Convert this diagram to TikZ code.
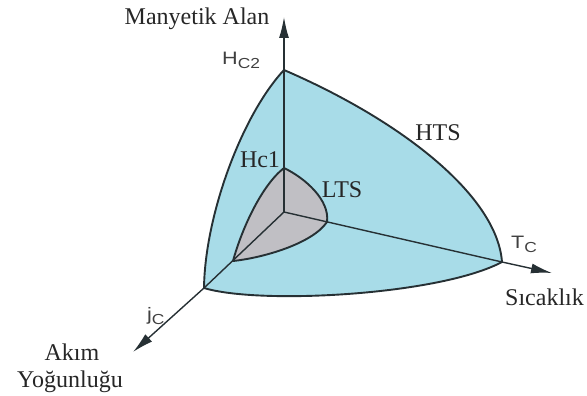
\documentclass[tikz,border=0pt]{standalone}
\usepackage{fontspec}
\setmainfont{Liberation Serif}
\newfontfamily\serf{Liberation Serif}
\newfontfamily\sansf{Liberation Sans}
\usetikzlibrary{arrows.meta}
\definecolor{htsblue}{RGB}{168,220,232}
\definecolor{ltsgray}{RGB}{192,191,196}
\definecolor{edge}{RGB}{38,48,52}
\tikzset{
  outline/.style={draw=edge, line width=1.9pt, line join=round},
  axisline/.style={draw=edge, line width=1.4pt},
  axisarrow/.style={axisline, -{Latex[length=21pt,width=10pt]}},
  lbl/.style={inner sep=0pt, font=\serf\fontsize{24}{26}\selectfont, text=black!85},
  slbl/.style={inner sep=0pt, text=black!75},
}
\newcommand{\subC}[2]{\scalebox{1.2}[1]{\sansf\fontsize{18}{18}\selectfont #1\raisebox{-4pt}{\fontsize{14.5}{14.5}\selectfont #2}}}
\begin{document}
\begin{tikzpicture}[x=1pt,y=-1pt]
\useasboundingbox (0,0) rectangle (587,396);
% key points
\coordinate (O) at (284,212);
\coordinate (Hc2) at (284,70);
\coordinate (Tc) at (502,262);
\coordinate (Jc) at (204,288);
\coordinate (Hc1) at (284,168);
\coordinate (Lr) at (327,222);
\coordinate (Ll) at (233,261);
\coordinate (Ztop) at (284,17);
\coordinate (Ttip) at (552,273);
\coordinate (Jtip) at (133,352);
% outer HTS surface
\path[fill=htsblue] (Hc2) .. controls (400,120) and (497,195) .. (Tc)
  .. controls (440,295) and (260,305) .. (Jc)
  .. controls (205,215) and (242,115) .. (Hc2) -- cycle;
% inner LTS surface
\path[fill=ltsgray] (Hc1) .. controls (305,178) and (330,200) .. (Lr)
  .. controls (312,244) and (262,258) .. (Ll)
  .. controls (242,228) and (262,185) .. (Hc1) -- cycle;
% internal lines
\draw[axisline] (O) -- (Jc);
\draw[axisline] (O) -- (Tc);
\draw[axisarrow] (O) -- (Ztop);
\draw[axisarrow] (Tc) -- (Ttip);
\draw[axisarrow] (Jc) -- (Jtip);
% outlines
\draw[outline] (Hc2) .. controls (400,120) and (497,195) .. (Tc)
  .. controls (440,295) and (260,305) .. (Jc)
  .. controls (205,215) and (242,115) .. (Hc2) -- cycle;
\draw[outline] (Hc1) .. controls (305,178) and (330,200) .. (Lr)
  .. controls (312,244) and (262,258) .. (Ll)
  .. controls (242,228) and (262,185) .. (Hc1) -- cycle;
% labels
\node[lbl, anchor=base] (tMA) at (197,25) {Manyetik Alan};
\node[slbl, anchor=base west] (tHc2) at (222,65) {\subC{H}{C2}};
\node[lbl, anchor=base] (tHc1) at (260,167) {Hc1};
\node[lbl, anchor=base] (tLTS) at (342,197) {LTS};
\node[lbl, anchor=base] (tHTS) at (438,140) {HTS};
\node[slbl, anchor=base west] (tTc) at (511,248) {\subC{T}{C}};
\node[lbl, anchor=base west] (tSic) at (505,305) {Sıcaklık};
\node[slbl, anchor=base west] (tJc) at (147,320) {\subC{j}{C}};
\node[lbl, anchor=base] (tAkim) at (72,360) {Akım};
\node[lbl, anchor=base] (tYog) at (70,387) {Yoğunluğu};
\end{tikzpicture}
\end{document}
